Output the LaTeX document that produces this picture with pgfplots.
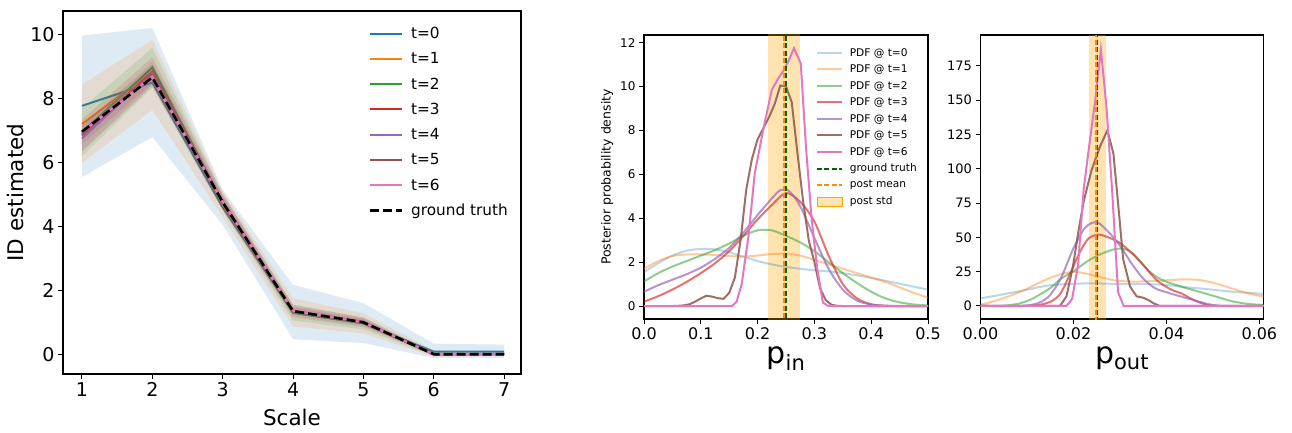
\documentclass[border=0pt]{standalone}
\usepackage{fontspec}
\setmainfont{DejaVu Sans}
\usepackage{pgfplots}
\pgfplotsset{compat=1.18}

\definecolor{c0}{RGB}{31,119,180}
\definecolor{c1}{RGB}{255,127,14}
\definecolor{c2}{RGB}{44,160,44}
\definecolor{c3}{RGB}{214,39,40}
\definecolor{c4}{RGB}{148,103,189}
\definecolor{c5}{RGB}{140,86,75}
\definecolor{c6}{RGB}{227,119,194}
\definecolor{gtgreen}{RGB}{0,100,0}
\definecolor{meanorange}{RGB}{255,140,0}
\definecolor{stdorange}{RGB}{255,165,0}

\newcommand{\fs}[1]{\fontsize{#1}{#1}\selectfont}

\pgfplotsset{
  mpl/.style={
    scale only axis, anchor=south west,
    tick align=outside, xtick pos=left, ytick pos=left,
    major tick length=5pt,
    /pgf/number format/assume math mode=true,
    axis line style={line width=1.2pt},
    every tick/.style={black, line width=1pt},
  },
  band/.style={fill=#1, fill opacity=0.15, draw=none, forget plot},
  pdf/.style 2 args={draw=#1, draw opacity=#2, line width=2pt},
}

\begin{document}
\begin{tikzpicture}
\path[use as bounding box] (0,0) rectangle (1292pt,432pt);

% ---------------- left: ID estimate vs scale ----------------
\begin{axis}[mpl,
  at={(63pt,58pt)}, width=458pt, height=363pt,
  xmin=0.73, xmax=7.24, ymin=-0.62, ymax=10.75,
  xtick={1,...,7}, ytick={0,2,...,10},
  axis line style={line width=1.7pt},
  tick label style={font=\fs{19}},
  xlabel={Scale}, ylabel={ID estimated},
  label style={font=\fs{21.5}},
  xlabel style={yshift=-5pt},
  legend style={draw=none, fill=none, at={(1,1)}, anchor=north east,
    xshift=-8pt, yshift=-12pt, font=\fs{15.3}, row sep=8.5pt},
  legend cell align=left,
  legend image code/.code={\draw[#1] (0pt,0pt) -- (32pt,0pt); \path (38pt,0pt);},
]
\addplot[c0, line width=2pt] coordinates {(1,7.78)(2,8.51)(3,4.6)(4,1.3)(5,0.97)(6,0.08)(7,0.08)};
\addplot[band=c0] coordinates {(1,9.98)(2,10.22)(3,5.15)(4,2.17)(5,1.6)(6,0.33)(7,0.3)(7,-0.12)(6,-0.12)(5,0.35)(4,0.47)(3,4.05)(2,6.8)(1,5.55)};
\addplot[c1, line width=2pt] coordinates {(1,7.21)(2,8.85)(3,4.7)(4,1.32)(5,0.98)(6,0)(7,0)};
\addplot[band=c1] coordinates {(1,8.45)(2,9.85)(3,5.1)(4,1.75)(5,1.28)(6,0.12)(7,0.08)(7,-0.05)(6,-0.08)(5,0.65)(4,0.87)(3,4.3)(2,7.65)(1,6.0)};
\addplot[c2, line width=2pt] coordinates {(1,6.95)(2,8.98)(3,4.75)(4,1.3)(5,0.97)(6,0)(7,0)};
\addplot[band=c2] coordinates {(1,7.7)(2,9.6)(3,5.0)(4,1.55)(5,1.15)(6,0.06)(7,0.04)(7,-0.04)(6,-0.06)(5,0.78)(4,1.05)(3,4.5)(2,8.35)(1,6.2)};
\addplot[c3, line width=2pt] coordinates {(1,6.85)(2,8.85)(3,4.78)(4,1.35)(5,1.0)(6,0)(7,0)};
\addplot[band=c3] coordinates {(1,7.35)(2,9.3)(3,5.03)(4,1.55)(5,1.15)(6,0.03)(7,0.02)(7,-0.02)(6,-0.03)(5,0.85)(4,1.15)(3,4.53)(2,8.4)(1,6.35)};
\addplot[c4, line width=2pt] coordinates {(1,6.76)(2,8.8)(3,4.78)(4,1.35)(5,1.0)(6,0)(7,0)};
\addplot[band=c4] coordinates {(1,7.16)(2,9.15)(3,4.98)(4,1.5)(5,1.12)(6,0.02)(7,0.02)(7,-0.02)(6,-0.02)(5,0.88)(4,1.2)(3,4.58)(2,8.45)(1,6.36)};
\addplot[c5, line width=2pt] coordinates {(1,6.88)(2,8.78)(3,4.78)(4,1.36)(5,1.01)(6,0)(7,0)};
\addplot[band=c5] coordinates {(1,7.18)(2,9.08)(3,4.93)(4,1.46)(5,1.09)(6,0.02)(7,0.02)(7,-0.02)(6,-0.02)(5,0.93)(4,1.26)(3,4.63)(2,8.48)(1,6.58)};
\addplot[c6, line width=2pt] coordinates {(1,6.95)(2,8.7)(3,4.78)(4,1.36)(5,1.0)(6,0)(7,0)};
\addplot[band=c6] coordinates {(1,7.15)(2,8.9)(3,4.88)(4,1.44)(5,1.06)(6,0.01)(7,0.01)(7,-0.01)(6,-0.01)(5,0.94)(4,1.28)(3,4.68)(2,8.5)(1,6.75)};
\addplot[black, line width=2.6pt, dash pattern=on 9pt off 4pt] coordinates {(1,6.97)(2,8.67)(3,4.76)(4,1.35)(5,1.0)(6,0)(7,0)};
\legend{t=0,t=1,t=2,t=3,t=4,t=5,t=6,ground truth}
\end{axis}

% ---------------- middle: posterior of p_in ----------------
\begin{axis}[mpl,
  at={(644pt,113pt)}, width=284pt, height=284pt,
  xmin=0, xmax=0.5, ymin=-0.59, ymax=12.35,
  xtick={0,0.1,...,0.5}, ytick={0,2,...,12},
  xticklabel style={font=\fs{16}, /pgf/number format/.cd, fixed, fixed zerofill, precision=1},
  yticklabel style={font=\fs{12}},
  xlabel={\fs{30}p\textsubscript{in}},
  ylabel={Posterior probability density},
  ylabel style={font=\fs{12.5}},
  legend style={draw=none, fill=none, at={(1,1)}, anchor=north east,
    xshift=-6pt, yshift=-9pt, font=\fs{10.6}, row sep=3.2pt},
  legend cell align=left,
  legend image code/.code={\draw[#1] (0pt,0pt) -- (25pt,0pt); \path (30pt,0pt);},
]
\addplot[fill=stdorange, fill opacity=0.3, draw=none, forget plot] coordinates {(0.219,-5)(0.274,-5)(0.274,20)(0.219,20)};
\addplot[pdf={c0}{0.3}, smooth] coordinates {(0,1.55)(0.025,1.95)(0.05,2.3)(0.075,2.52)(0.1,2.6)(0.125,2.58)(0.15,2.45)(0.175,2.25)(0.2,2.05)(0.225,1.9)(0.25,1.78)(0.275,1.7)(0.3,1.63)(0.325,1.58)(0.35,1.5)(0.375,1.4)(0.4,1.28)(0.425,1.15)(0.45,1.02)(0.475,0.88)(0.5,0.75)};
\addplot[pdf={c1}{0.42}, smooth] coordinates {(0,1.7)(0.025,2.05)(0.05,2.28)(0.075,2.35)(0.1,2.35)(0.125,2.33)(0.15,2.28)(0.175,2.25)(0.2,2.3)(0.225,2.37)(0.25,2.38)(0.275,2.3)(0.3,2.1)(0.325,1.9)(0.35,1.7)(0.375,1.5)(0.4,1.3)(0.425,1.1)(0.45,0.85)(0.475,0.6)(0.5,0.38)};
\addplot[pdf={c2}{0.53}, smooth] coordinates {(0,1.12)(0.025,1.5)(0.05,1.8)(0.075,2.05)(0.1,2.3)(0.125,2.55)(0.15,2.85)(0.175,3.2)(0.2,3.45)(0.225,3.45)(0.25,3.2)(0.275,2.9)(0.3,2.5)(0.325,2.0)(0.35,1.5)(0.375,1.05)(0.4,0.65)(0.425,0.35)(0.45,0.17)(0.475,0.07)(0.5,0.03)};
\addplot[pdf={c3}{0.65}, smooth] coordinates {(0,0.2)(0.025,0.45)(0.05,0.75)(0.075,1.1)(0.1,1.5)(0.125,1.95)(0.15,2.5)(0.175,3.2)(0.2,3.95)(0.225,4.6)(0.25,5.15)(0.275,4.75)(0.3,3.85)(0.325,2.3)(0.35,1.0)(0.375,0.35)(0.4,0.08)(0.425,0.02)(0.45,0)(0.475,0)(0.5,0)};
\addplot[pdf={c4}{0.7}, smooth] coordinates {(0,0.65)(0.025,0.95)(0.05,1.2)(0.075,1.45)(0.1,1.75)(0.125,2.15)(0.15,2.65)(0.175,3.35)(0.2,4.15)(0.225,4.9)(0.24,5.28)(0.255,5.25)(0.275,4.55)(0.3,3.1)(0.325,1.7)(0.35,0.75)(0.375,0.25)(0.4,0.07)(0.425,0.01)(0.45,0)(0.5,0)};
\addplot[pdf={c5}{0.85}] coordinates {(0,0)(0.05,0)(0.06,0.01)(0.07,0.03)(0.08,0.08)(0.09,0.2)(0.1,0.35)(0.11,0.47)(0.12,0.43)(0.13,0.36)(0.14,0.33)(0.15,0.6)(0.16,1.3)(0.17,3.0)(0.18,5.3)(0.19,6.7)(0.2,7.6)(0.21,8.1)(0.22,8.6)(0.23,9.2)(0.24,10.05)(0.25,10.0)(0.26,9.3)(0.27,7.0)(0.28,4.8)(0.29,3.0)(0.3,2.0)(0.31,0.8)(0.32,0.27)(0.33,0.06)(0.34,0.01)(0.35,0)(0.5,0)};
\addplot[pdf={c6}{1}] coordinates {(0,0)(0.155,0)(0.163,0.2)(0.172,1.0)(0.184,3.2)(0.195,6.05)(0.21,8.05)(0.225,9.85)(0.237,10.4)(0.245,10.7)(0.255,11.2)(0.264,11.75)(0.276,11.05)(0.285,7.3)(0.295,4.0)(0.305,1.7)(0.315,0.15)(0.325,0)(0.5,0)};
\addplot[gtgreen, line width=2pt, dash pattern=on 5pt off 2.5pt] coordinates {(0.25,-5)(0.25,20)};
\addplot[meanorange, line width=2pt, dash pattern=on 5pt off 2.5pt] coordinates {(0.2465,-5)(0.2465,20)};
\addlegendimage{legend image code/.code={\fill[stdorange, fill opacity=0.3] (0pt,-4.5pt) rectangle (25pt,4.5pt); \path (30pt,0pt);}}
\legend{PDF @ t=0,PDF @ t=1,PDF @ t=2,PDF @ t=3,PDF @ t=4,PDF @ t=5,PDF @ t=6,ground truth,post mean,post std}
\end{axis}

% ---------------- right: posterior of p_out ----------------
\begin{axis}[mpl,
  at={(980.5pt,113pt)}, width=283pt, height=284pt,
  xmin=0, xmax=0.0609, ymin=-9.5, ymax=197.4,
  xtick={0,0.02,0.04,0.06}, ytick={0,25,...,175},
  scaled x ticks=false,
  xticklabel style={font=\fs{16}, /pgf/number format/.cd, fixed, fixed zerofill, precision=2},
  yticklabel style={font=\fs{13}},
  xlabel={\fs{30}p\textsubscript{out}},
]
\addplot[fill=stdorange, fill opacity=0.3, draw=none] coordinates {(0.0233,-50)(0.0271,-50)(0.0271,300)(0.0233,300)};
\addplot[pdf={c0}{0.3}, smooth] coordinates {(0,5.6)(0.003,7.3)(0.006,9.2)(0.01,11.8)(0.013,14)(0.016,15.4)(0.019,16)(0.024,16.5)(0.031,15.9)(0.036,15.9)(0.04,15.3)(0.0433,14)(0.047,12.8)(0.0505,11.7)(0.054,10.4)(0.058,9.5)(0.061,8.7)};
\addplot[pdf={c1}{0.42}, smooth] coordinates {(0,1)(0.0024,3)(0.0059,6.8)(0.0095,11.7)(0.0131,17.7)(0.0167,22.6)(0.0196,24.8)(0.0217,24.3)(0.0253,21.4)(0.0289,18.6)(0.0325,17.8)(0.0361,18)(0.04,18.7)(0.0433,19.3)(0.0469,19)(0.0505,16.5)(0.054,12.9)(0.0576,9.2)(0.061,6.8)};
\addplot[pdf={c2}{0.53}, smooth] coordinates {(0,0)(0.004,0.1)(0.006,0.5)(0.008,1.5)(0.0095,3)(0.011,5)(0.0131,9)(0.015,13)(0.0174,20)(0.0203,26)(0.0232,33)(0.026,38)(0.029,41.5)(0.031,41.5)(0.0325,39)(0.034,34)(0.0361,26)(0.038,21)(0.0397,18)(0.0433,14)(0.0469,10.5)(0.0505,7)(0.054,3.5)(0.0576,1.5)(0.061,0.7)};
\addplot[pdf={c3}{0.65}, smooth] coordinates {(0,0)(0.01,0)(0.013,1)(0.015,3)(0.0167,7)(0.018,14)(0.02,29)(0.0215,40)(0.0232,49)(0.0253,52)(0.0275,50)(0.03,46)(0.0311,43)(0.033,37)(0.0347,31)(0.0365,24)(0.0383,17.7)(0.041,12)(0.0433,9)(0.0455,5)(0.0476,2)(0.0505,0)(0.061,0)};
\addplot[pdf={c4}{0.7}, smooth] coordinates {(0,0)(0.008,0)(0.011,0.8)(0.013,3)(0.015,8)(0.0174,21)(0.02,42)(0.0225,57)(0.025,61)(0.0275,54)(0.03,44)(0.0325,31)(0.035,20)(0.0375,13)(0.04,10)(0.043,7)(0.047,3.2)(0.05,0.7)(0.053,0)(0.061,0)};
\addplot[pdf={c5}{0.85}] coordinates {(0,0)(0.0171,0)(0.0185,7)(0.0199,29)(0.0211,55)(0.0222,76)(0.0239,99)(0.0257,116)(0.0273,128)(0.0286,111)(0.0296,75)(0.0307,34)(0.0322,14)(0.0336,7)(0.035,6)(0.0361,4.4)(0.0372,2)(0.0386,0)(0.061,0)};
\addplot[pdf={c6}{1}] coordinates {(0,0)(0.0185,0)(0.0197,5)(0.021,30)(0.0222,85)(0.0234,117)(0.0247,150)(0.0259,187)(0.0271,145)(0.0284,80)(0.0296,10)(0.0308,0)(0.061,0)};
\addplot[gtgreen, line width=2pt, dash pattern=on 5pt off 2.5pt] coordinates {(0.025,-50)(0.025,300)};
\addplot[meanorange, line width=2pt, dash pattern=on 5pt off 2.5pt] coordinates {(0.0248,-50)(0.0248,300)};
\end{axis}
\end{tikzpicture}
\end{document}
